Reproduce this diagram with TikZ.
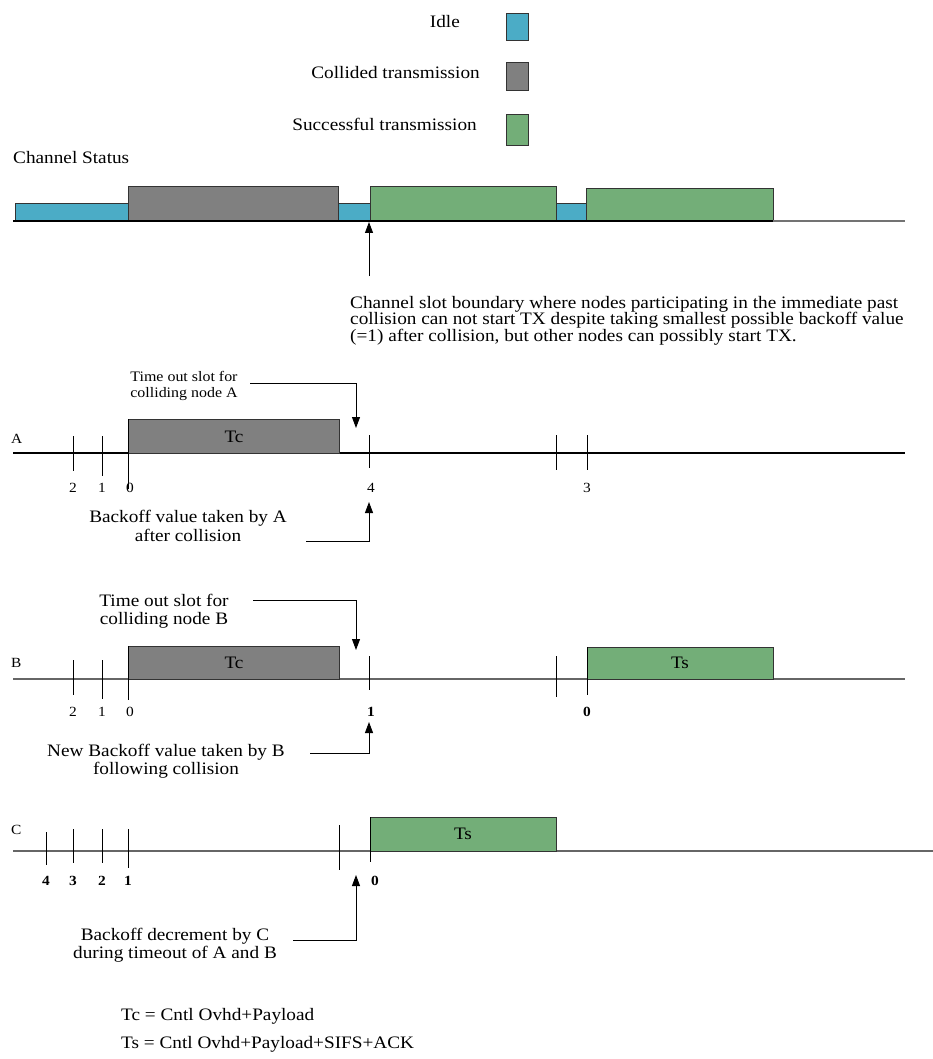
\documentclass[tikz,border=0pt]{standalone}
\usepackage{fontspec}
\setmainfont{Liberation Serif}[FakeStretch=1.1]
\usetikzlibrary{arrows.meta}
\definecolor{idlecol}{RGB}{75,172,198}
\definecolor{collcol}{RGB}{128,128,128}
\definecolor{succcol}{RGB}{115,174,120}
\begin{document}
\begin{tikzpicture}[x=1pt,y=-1pt,
  lbl/.style={font=\fontsize{17.5}{18.5}\selectfont,inner sep=0pt,align=center},
  lblsmall/.style={font=\fontsize{14.5}{16}\selectfont,inner sep=0pt,align=center},
  digit/.style={font=\fontsize{14}{14}\selectfont,inner sep=0pt},
  bdigit/.style={font=\fontsize{14}{14}\selectfont\bfseries,inner sep=0pt},
  slotbox/.style={draw=black!80,line width=0.9pt},
  tick/.style={line width=0.9pt},
  axis/.style={line width=1.4pt},
  pointer/.style={-{Triangle[width=8pt,length=11pt]},line width=0.9pt}]
\useasboundingbox (0,0) rectangle (933,1059);

% legend
\node[lbl,anchor=east] (idletxt) at (460,22) {Idle};
\node[lbl,anchor=east] (colltxt) at (480,73) {Collided transmission};
\node[lbl,anchor=east] (succtxt) at (477,124) {Successful transmission};
\draw[slotbox,fill=idlecol] (506,13) rectangle (528,40);
\draw[slotbox,fill=collcol] (506,62) rectangle (528,90);
\draw[slotbox,fill=succcol] (506,114) rectangle (528,145);

% channel status
\node[lbl,anchor=west] (chstat) at (13,158) {Channel Status};
\draw[slotbox,fill=idlecol] (15,203) rectangle (128,221);
\draw[slotbox,fill=collcol] (128,186) rectangle (338,221);
\draw[slotbox,fill=idlecol] (338,203) rectangle (370,221);
\draw[slotbox,fill=succcol] (370,186) rectangle (556,221);
\draw[slotbox,fill=idlecol] (556,203) rectangle (586,221);
\draw[slotbox,fill=succcol] (586,188) rectangle (773,221);
\draw[axis] (13,221) -- (773,221);
\draw[axis,black!55] (773,221) -- (905,221);
\coordinate (bndtip) at (369,222);
\coordinate (bndfoot) at (369,276);
\draw[pointer] (bndfoot) -- (bndtip);
\node[lbl,anchor=north west,align=left,font=\fontsize{17.5}{16.5}\selectfont] (bndtxt) at (350,296)
  {Channel slot boundary where nodes participating in the immediate past\\
   collision can not start TX despite taking smallest possible backoff value\\
   (=1) after collision, but other nodes can possibly start TX.};

% node A
\node[digit,anchor=west] (rowA) at (11,439) {A};
\draw[axis] (13,453) -- (905,453);
\draw[slotbox,fill=collcol] (128,419) rectangle (339,453);
\node[lbl] (tcA) at (234,437) {Tc};
\draw[tick] (73,436) -- (73,471);
\draw[tick] (102,436) -- (102,476);
\draw[tick] (128,419) -- (128,489);
\draw[tick] (369,435) -- (369,468);
\draw[tick] (556,435) -- (556,470);
\draw[tick] (587,435) -- (587,470);
\foreach \x/\n in {73/2,102/1,130/0,371/4,587/3}
  \node[digit] (a\n) at (\x,488) {\n};
\node[lblsmall] (toA) at (184,386) {Time out slot for\\colliding node A};
\coordinate (toAfrom) at (250,383);
\coordinate (toAtip) at (356,428);
\draw[pointer] (toAfrom) -| (toAtip);
\node[lbl] (boA) at (188,526) {Backoff value taken by A\\after collision};
\coordinate (boAfrom) at (306,541);
\coordinate (boAtip) at (369,502);
\draw[pointer] (boAfrom) -| (boAtip);

% node B
\node[digit,anchor=west] (rowB) at (11,663) {B};
\draw[axis,black!60] (13,679) -- (905,679);
\draw[slotbox,fill=collcol] (128,646) rectangle (339,679);
\node[lbl] (tcB) at (234,663) {Tc};
\draw[slotbox,fill=succcol] (587,647) rectangle (773,679);
\node[lbl] (tsB) at (680,663) {Ts};
\draw[tick] (73,660) -- (73,695);
\draw[tick] (102,660) -- (102,699);
\draw[tick] (128,646) -- (128,700);
\draw[tick] (369,656) -- (369,690);
\draw[tick] (556,656) -- (556,697);
\draw[tick] (587,647) -- (587,695);
\foreach \x/\n in {73/2,102/1,130/0}
  \node[digit] (b\n) at (\x,712) {\n};
\node[bdigit] (bnew1) at (371,712) {1};
\node[bdigit] (bnew0) at (587,712) {0};
\node[lbl] (toB) at (164,611) {Time out slot for\\colliding node B};
\coordinate (toBfrom) at (253,600);
\coordinate (toBtip) at (356,650);
\draw[pointer] (toBfrom) -| (toBtip);
\node[lbl] (boB) at (166,761) {New Backoff value taken by B\\following collision};
\coordinate (boBfrom) at (310,753);
\coordinate (boBtip) at (369,722);
\draw[pointer] (boBfrom) -| (boBtip);

% node C
\node[digit,anchor=west] (rowC) at (11,830) {C};
\draw[axis,black!60] (13,851) -- (933,851);
\draw[slotbox,fill=succcol] (370,817) rectangle (556,851);
\node[lbl] (tsC) at (463,834) {Ts};
\draw[tick] (46,832) -- (46,865);
\draw[tick] (73,829) -- (73,863);
\draw[tick] (102,829) -- (102,863);
\draw[tick] (128,829) -- (128,868);
\draw[tick] (339,825) -- (339,870);
\draw[tick] (370,817) -- (370,862);
\foreach \x/\n in {46/4,73/3,102/2,128/1,375/0}
  \node[bdigit] (c\n) at (\x,881) {\n};
\node[lbl] (boC) at (175,945) {Backoff decrement by C\\during timeout of A and B};
\coordinate (boCfrom) at (293,940);
\coordinate (boCtip) at (356,875);
\draw[pointer] (boCfrom) -| (boCtip);

% durations
\node[lbl,anchor=west] (tcdef) at (121,1016) {Tc = Cntl Ovhd+Payload};
\node[lbl,anchor=west] (tsdef) at (121,1044) {Ts = Cntl Ovhd+Payload+SIFS+ACK};
\end{tikzpicture}
\end{document}
